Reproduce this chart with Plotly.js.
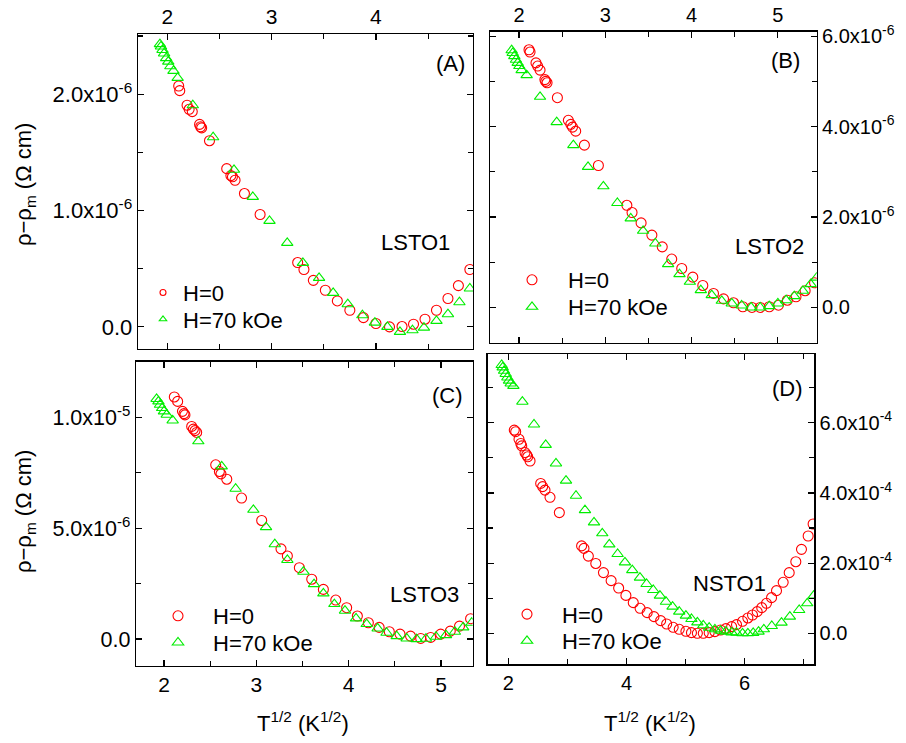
<!DOCTYPE html>
<html>
<head>
<meta charset="utf-8">
<script src="https://cdn.plot.ly/plotly-3.0.1.min.js"></script>
<style>html,body{margin:0;padding:0;background:#fff;} #chart{width:906px;height:743px;}</style>
</head>
<body>
<div id="chart"></div>
<script>
// ---------- DATA ----------
// Panel A (LSTO1), y in units of 1e-6 Ohm cm
const scaleA = 1e-6;
const xA_H0 = [2.11,2.12,2.19,2.21,2.24,2.31,2.32,2.33,2.405,2.57,2.61,2.625,2.65,2.74,2.89,3.25,3.31,3.40,3.515,3.63,3.75,3.88,4.00,4.13,4.25,4.36,4.47,4.58,4.69,4.79,4.90];
const yA_H0 = [2.07,2.03,1.905,1.87,1.85,1.74,1.72,1.71,1.60,1.36,1.30,1.29,1.26,1.146,0.966,0.553,0.493,0.40,0.315,0.223,0.143,0.08,0.029,0.00,0.003,0.023,0.066,0.143,0.244,0.355,0.493];
const xA_H70 = [1.93,1.94,1.955,1.97,1.99,2.01,2.03,2.06,2.10,2.245,2.44,2.64,2.82,2.98,3.15,3.30,3.455,3.59,3.73,3.87,3.99,4.11,4.23,4.35,4.46,4.58,4.69,4.80,4.90];
const yA_H70 = [2.43,2.41,2.38,2.35,2.31,2.28,2.24,2.20,2.14,1.905,1.63,1.35,1.117,0.911,0.722,0.55,0.421,0.292,0.195,0.10,0.037,0.0,-0.043,-0.029,-0.006,0.052,0.109,0.212,0.33];

// Panel B (LSTO2), y in units of 1e-6 Ohm cm
const scaleB = 1e-6;
const xB_H0 = [2.116,2.128,2.197,2.216,2.244,2.30,2.31,2.325,2.445,2.572,2.60,2.62,2.657,2.758,2.92,3.25,3.31,3.415,3.54,3.66,3.77,3.886,4.014,4.13,4.254,4.37,4.486,4.594,4.70,4.795,4.90,5.007,5.11,5.21,5.316,5.425];
const yB_H0 = [5.70,5.65,5.41,5.34,5.25,5.04,5.00,4.97,4.64,4.14,4.05,3.99,3.90,3.59,3.14,2.26,2.10,1.87,1.60,1.34,1.07,0.862,0.67,0.486,0.31,0.19,0.103,0.015,0.0,0.0,0.015,0.05,0.16,0.235,0.37,0.545];
const xB_H70 = [1.915,1.927,1.946,1.965,1.985,2.004,2.031,2.089,2.244,2.437,2.63,2.80,2.978,3.14,3.295,3.438,3.58,3.728,3.86,3.98,4.107,4.234,4.35,4.466,4.58,4.69,4.795,4.90,5.0,5.096,5.19,5.29,5.38,5.45];
const yB_H70 = [5.69,5.63,5.56,5.48,5.41,5.34,5.25,5.14,4.66,4.10,3.59,3.11,2.68,2.31,1.97,1.695,1.415,0.958,0.737,0.567,0.383,0.273,0.147,0.088,0.044,0.0,0.0,0.03,0.088,0.16,0.25,0.368,0.516,0.66];

// Panel C (LSTO3), y in units of 1e-6 Ohm cm
const scaleC = 1e-6;
const xC_H0 = [2.112,2.148,2.20,2.217,2.227,2.30,2.318,2.336,2.354,2.56,2.60,2.617,2.68,2.84,3.058,3.267,3.336,3.466,3.60,3.726,3.86,3.978,4.094,4.213,4.33,4.44,4.556,4.67,4.78,4.888,4.996,5.10,5.20,5.32];
const yC_H0 = [10.92,10.72,10.27,10.17,10.11,9.59,9.47,9.40,9.32,7.86,7.56,7.45,7.21,6.36,5.35,4.07,3.75,3.22,2.70,2.24,1.76,1.416,1.04,0.738,0.527,0.331,0.226,0.136,0.03,0.075,0.226,0.36,0.587,0.92];
const xC_H70 = [1.92,1.94,1.957,1.98,2.0,2.03,2.094,2.372,2.625,2.776,2.968,3.105,3.20,3.336,3.51,3.625,3.726,3.845,3.96,4.08,4.195,4.314,4.41,4.52,4.628,4.736,4.837,4.946,5.054,5.15,5.24,5.332];
const yC_H70 = [10.83,10.72,10.57,10.42,10.27,10.12,9.86,8.92,7.79,6.78,5.83,5.05,4.28,3.57,3.04,2.48,2.06,1.58,1.28,0.934,0.678,0.48,0.286,0.136,0.03,0.0,0.015,0.105,0.18,0.331,0.527,0.738];

// Panel D (NSTO1), y in units of 1e-4 Ohm cm
const scaleD = 1e-4;
const xD_H0 = [2.10,2.124,2.18,2.21,2.226,2.282,2.31,2.327,2.367,2.547,2.58,2.62,2.705,2.863,3.24,3.28,3.354,3.48,3.61,3.74,3.867,3.99,4.115,4.23,4.35,4.465,4.578,4.68,4.79,4.893,5.006,5.10,5.20,5.30,5.40,5.497,5.593,5.683,5.78,5.863,5.965,6.055,6.134,6.213,6.29,6.37,6.456,6.54,6.653,6.755,6.867,6.963,7.076,7.16];
const yD_H0 = [5.79,5.745,5.53,5.41,5.34,5.15,5.08,5.03,4.91,4.27,4.18,4.08,3.875,3.44,2.49,2.42,2.20,1.99,1.73,1.50,1.29,1.08,0.874,0.712,0.589,0.475,0.361,0.266,0.171,0.114,0.057,0.019,0.0,0.0,0.019,0.047,0.095,0.133,0.19,0.247,0.342,0.437,0.522,0.617,0.731,0.855,1.016,1.215,1.453,1.728,2.04,2.393,2.773,3.115];
const xD_H70 = [1.887,1.904,1.927,1.955,1.983,2.011,2.04,2.085,2.237,2.434,2.632,2.806,2.976,3.145,3.297,3.45,3.59,3.709,3.85,3.974,4.098,4.228,4.34,4.453,4.566,4.668,4.78,4.893,5.006,5.10,5.20,5.30,5.40,5.497,5.593,5.683,5.78,5.863,5.965,6.055,6.145,6.236,6.326,6.46,6.625,6.766,6.924,7.06,7.17];
const yD_H70 = [7.645,7.578,7.48,7.39,7.29,7.20,7.12,7.05,6.60,5.95,5.37,4.84,4.35,3.92,3.51,3.16,2.85,2.535,2.26,2.02,1.80,1.586,1.405,1.235,1.073,0.90,0.76,0.617,0.503,0.408,0.313,0.228,0.16,0.114,0.076,0.047,0.028,0.019,0.0,0.0,0.01,0.047,0.114,0.209,0.304,0.475,0.665,0.855,1.073];

// Tick labels
const tickValsA = [0, 1e-6, 2e-6];
const tickTextA = ['0.0', '1.0x10<sup>-6</sup>', '2.0x10<sup>-6</sup>'];
const tickValsB = [0, 2e-6, 4e-6, 6e-6];
const tickTextB = ['0.0', '2.0x10<sup>-6</sup>', '4.0x10<sup>-6</sup>', '6.0x10<sup>-6</sup>'];
const tickValsC = [0, 5e-6, 1e-5];
const tickTextC = ['0.0', '5.0x10<sup>-6</sup>', '1.0x10<sup>-5</sup>'];
const tickValsD = [0, 2e-4, 4e-4, 6e-4];
const tickTextD = ['0.0', '2.0x10<sup>-4</sup>', '4.0x10<sup>-4</sup>', '6.0x10<sup>-4</sup>'];
const seriesNames = ['H=0', 'H=70 kOe'];
const panelLabels = ['(A)', '(B)', '(C)', '(D)'];
const sampleNames = ['LSTO1', 'LSTO2', 'LSTO3', 'NSTO1'];

// ---------- STYLE ----------
const FONT = 'Liberation Sans, Arial, Helvetica, sans-serif';
const RED = '#ff0000';
const GREEN = '#00ee00';
const W = 906, H = 743;
const px = v => v / W;
const py = v => 1 - v / H;

function sc(v, s) { return v.map(d => d * s); }

function mk(x, y, s, name, col, sym, xa, ya, leg, size, showleg) {
  return {
    x: x, y: sc(y, s), type: 'scatter', mode: 'markers', name: name,
    xaxis: xa, yaxis: ya, legend: leg, cliponaxis: true, showlegend: showleg,
    marker: { symbol: sym, size: size, color: col, line: { color: col, width: 1.1 } }
  };
}
// legend-only key for panel A (smaller symbols in its key)
function key(name, col, sym, leg, size) {
  return { x: [null], y: [null], type: 'scatter', mode: 'markers', name: name, xaxis: 'x', yaxis: 'y',
    legend: leg, showlegend: true, hoverinfo: 'skip',
    marker: { symbol: sym, size: size, color: col, line: { color: col, width: 1.1 } } };
}

const traces = [
  mk(xA_H0, yA_H0, scaleA, seriesNames[0], RED, 'circle-open', 'x', 'y', 'legend', 10, false),
  mk(xA_H70, yA_H70, scaleA, seriesNames[1], GREEN, 'triangle-up-open', 'x', 'y', 'legend2', 10, false),
  key(seriesNames[0], RED, 'circle-open', 'legend', 6),
  key(seriesNames[1], GREEN, 'triangle-up-open', 'legend2', 6.5),
  mk(xB_H0, yB_H0, scaleB, seriesNames[0], RED, 'circle-open', 'x2', 'y2', 'legend3', 10, true),
  mk(xB_H70, yB_H70, scaleB, seriesNames[1], GREEN, 'triangle-up-open', 'x2', 'y2', 'legend4', 10, true),
  mk(xC_H0, yC_H0, scaleC, seriesNames[0], RED, 'circle-open', 'x3', 'y3', 'legend5', 10, true),
  mk(xC_H70, yC_H70, scaleC, seriesNames[1], GREEN, 'triangle-up-open', 'x3', 'y3', 'legend6', 10, true),
  mk(xD_H0, yD_H0, scaleD, seriesNames[0], RED, 'circle-open', 'x4', 'y4', 'legend7', 10, true),
  mk(xD_H70, yD_H70, scaleD, seriesNames[1], GREEN, 'triangle-up-open', 'x4', 'y4', 'legend8', 10, true)
];

function ax(o, fs) {
  return Object.assign({
    showline: true, linecolor: '#000', linewidth: 1.3, mirror: 'ticks',
    ticks: 'inside', ticklen: 6, tickwidth: 1.2, tickcolor: '#000',
    showgrid: false, zeroline: false, fixedrange: true,
    tickfont: { family: FONT, size: fs, color: '#000' }
  }, o);
}

function leg(xl, ycenter, iw) {
  return { x: px(xl), y: py(ycenter - 20), xanchor: 'left', yanchor: 'top', bgcolor: 'rgba(0,0,0,0)',
    font: { family: FONT, size: 22, color: '#000' }, itemwidth: iw, tracegroupgap: 0, visible: true };
}

const layout = {
  width: W, height: H,
  margin: { l: 0, r: 0, t: 0, b: 0 },
  paper_bgcolor: '#fff', plot_bgcolor: '#fff',
  font: { family: FONT, color: '#000' },
  showlegend: true,
  // Panel A
  xaxis: ax({ domain: [px(138), px(473)], range: [1.72, 4.93], side: 'top', anchor: 'y', tickmode: 'linear', tick0: 0, dtick: 1,
    minor: { tick0: 0, dtick: 0.5, ticks: 'inside', ticklen: 5, tickcolor: '#000' } }, 21),
  yaxis: ax({ domain: [py(349), py(34)], range: [-0.19e-6, 2.517e-6], anchor: 'x', tickmode: 'array', tickvals: tickValsA, ticktext: tickTextA,
    minor: { tickmode: 'linear', tick0: 0, dtick: 0.5e-6, ticks: 'inside', ticklen: 5, tickcolor: '#000' } }, 22),
  // Panel B
  xaxis2: ax({ domain: [px(490), px(816.7)], range: [1.664, 5.45], side: 'top', anchor: 'y2', tickmode: 'linear', tick0: 0, dtick: 1,
    minor: { tick0: 0, dtick: 0.5, ticks: 'inside', ticklen: 5, tickcolor: '#000' } }, 20),
  yaxis2: ax({ domain: [py(342.7), py(31.7)], range: [-0.78e-6, 6.1e-6], anchor: 'x2', side: 'right', tickmode: 'array', tickvals: tickValsB, ticktext: tickTextB,
    minor: { tickmode: 'linear', tick0: 0, dtick: 1e-6, ticks: 'inside', ticklen: 5, tickcolor: '#000' } }, 20),
  // Panel C
  xaxis3: ax({ domain: [px(136), px(472.7)], range: [1.697, 5.343], anchor: 'y3', tickmode: 'linear', tick0: 0, dtick: 1,
    minor: { tick0: 0, dtick: 0.5, ticks: 'inside', ticklen: 5, tickcolor: '#000' } }, 21),
  yaxis3: ax({ domain: [py(665.7), py(361.7)], range: [-1.2e-6, 12.51e-6], anchor: 'x3', tickmode: 'array', tickvals: tickValsC, ticktext: tickTextC,
    minor: { tickmode: 'linear', tick0: 0, dtick: 2.5e-6, ticks: 'inside', ticklen: 5, tickcolor: '#000' } }, 21.5),
  // Panel D
  xaxis4: ax({ domain: [px(487.7), px(814.3)], range: [1.65, 7.18], anchor: 'y4', tickmode: 'linear', tick0: 0, dtick: 2,
    minor: { tick0: 0, dtick: 1, ticks: 'inside', ticklen: 5, tickcolor: '#000' } }, 20),
  yaxis4: ax({ domain: [py(664.3), py(354.3)], range: [-0.883e-4, 7.95e-4], anchor: 'x4', side: 'right', tickmode: 'array', tickvals: tickValsD, ticktext: tickTextD,
    minor: { tickmode: 'linear', tick0: 0, dtick: 1e-4, ticks: 'inside', ticklen: 5, tickcolor: '#000' } }, 20),
  legend: leg(143, 291.7, 30),
  legend2: leg(143, 318.3, 30),
  legend3: leg(496, 279, 62),
  legend4: leg(496, 306, 62),
  legend5: leg(143, 615, 60),
  legend6: leg(143, 641.7, 60),
  legend7: leg(492, 613.3, 60),
  legend8: leg(492, 640, 60),
  annotations: [
    { text: panelLabels[0], x: px(450.7), y: py(63.3) },
    { text: sampleNames[0], x: px(415), y: py(242.7) },
    { text: panelLabels[1], x: px(785), y: py(60.7) },
    { text: sampleNames[1], x: px(769), y: py(246.7) },
    { text: panelLabels[2], x: px(447.7), y: py(395.7) },
    { text: sampleNames[2], x: px(424), y: py(594.3) },
    { text: panelLabels[3], x: px(787.3), y: py(388.3) },
    { text: sampleNames[3], x: px(729), y: py(583.3) },
    { text: 'ρ−ρ<sub>m</sub> (Ω cm)', x: px(25), y: py(185), textangle: -90 },
    { text: 'ρ−ρ<sub>m</sub> (Ω cm)', x: px(25), y: py(512), textangle: -90 },
    { text: 'T<sup>1/2</sup> (K<sup>1/2</sup>)', x: px(303), y: py(722) },
    { text: 'T<sup>1/2</sup> (K<sup>1/2</sup>)', x: px(650), y: py(722) }
  ].map(a => Object.assign({ xref: 'paper', yref: 'paper', showarrow: false, xanchor: 'center', yanchor: 'middle',
    font: { family: FONT, size: 22, color: '#000' } }, a))
};

Plotly.newPlot('chart', traces, layout, { staticPlot: true, displayModeBar: false });
</script>
</body>
</html>
